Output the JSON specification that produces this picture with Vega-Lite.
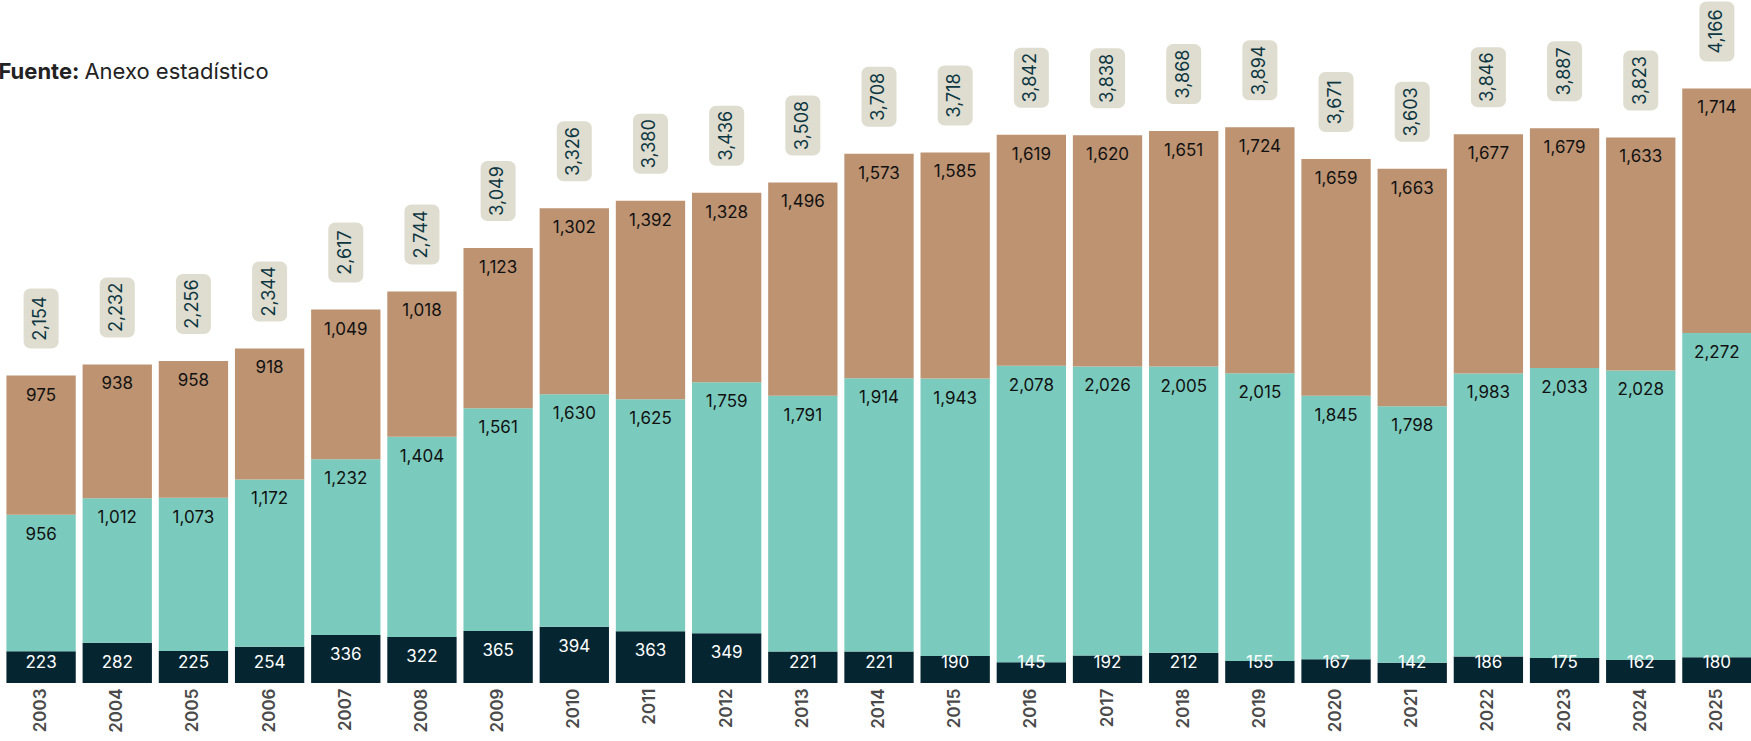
{
  "$schema": "https://vega.github.io/schema/vega-lite/v6.json",
  "width": 1752,
  "height": 683,
  "autosize": {"type": "none"},
  "padding": {"left": 3, "top": 0, "right": 0, "bottom": 58},
  "background": "white",
  "config": {"view": {"stroke": null}, "font": "Inter"},
  "data": {"values": [
    {"year": "2003", "cat": "c1", "value": 223}, {"year": "2003", "cat": "c2", "value": 956}, {"year": "2003", "cat": "c3", "value": 975},
    {"year": "2004", "cat": "c1", "value": 282}, {"year": "2004", "cat": "c2", "value": 1012}, {"year": "2004", "cat": "c3", "value": 938},
    {"year": "2005", "cat": "c1", "value": 225}, {"year": "2005", "cat": "c2", "value": 1073}, {"year": "2005", "cat": "c3", "value": 958},
    {"year": "2006", "cat": "c1", "value": 254}, {"year": "2006", "cat": "c2", "value": 1172}, {"year": "2006", "cat": "c3", "value": 918},
    {"year": "2007", "cat": "c1", "value": 336}, {"year": "2007", "cat": "c2", "value": 1232}, {"year": "2007", "cat": "c3", "value": 1049},
    {"year": "2008", "cat": "c1", "value": 322}, {"year": "2008", "cat": "c2", "value": 1404}, {"year": "2008", "cat": "c3", "value": 1018},
    {"year": "2009", "cat": "c1", "value": 365}, {"year": "2009", "cat": "c2", "value": 1561}, {"year": "2009", "cat": "c3", "value": 1123},
    {"year": "2010", "cat": "c1", "value": 394}, {"year": "2010", "cat": "c2", "value": 1630}, {"year": "2010", "cat": "c3", "value": 1302},
    {"year": "2011", "cat": "c1", "value": 363}, {"year": "2011", "cat": "c2", "value": 1625}, {"year": "2011", "cat": "c3", "value": 1392},
    {"year": "2012", "cat": "c1", "value": 349}, {"year": "2012", "cat": "c2", "value": 1759}, {"year": "2012", "cat": "c3", "value": 1328},
    {"year": "2013", "cat": "c1", "value": 221}, {"year": "2013", "cat": "c2", "value": 1791}, {"year": "2013", "cat": "c3", "value": 1496},
    {"year": "2014", "cat": "c1", "value": 221}, {"year": "2014", "cat": "c2", "value": 1914}, {"year": "2014", "cat": "c3", "value": 1573},
    {"year": "2015", "cat": "c1", "value": 190}, {"year": "2015", "cat": "c2", "value": 1943}, {"year": "2015", "cat": "c3", "value": 1585},
    {"year": "2016", "cat": "c1", "value": 145}, {"year": "2016", "cat": "c2", "value": 2078}, {"year": "2016", "cat": "c3", "value": 1619},
    {"year": "2017", "cat": "c1", "value": 192}, {"year": "2017", "cat": "c2", "value": 2026}, {"year": "2017", "cat": "c3", "value": 1620},
    {"year": "2018", "cat": "c1", "value": 212}, {"year": "2018", "cat": "c2", "value": 2005}, {"year": "2018", "cat": "c3", "value": 1651},
    {"year": "2019", "cat": "c1", "value": 155}, {"year": "2019", "cat": "c2", "value": 2015}, {"year": "2019", "cat": "c3", "value": 1724},
    {"year": "2020", "cat": "c1", "value": 167}, {"year": "2020", "cat": "c2", "value": 1845}, {"year": "2020", "cat": "c3", "value": 1659},
    {"year": "2021", "cat": "c1", "value": 142}, {"year": "2021", "cat": "c2", "value": 1798}, {"year": "2021", "cat": "c3", "value": 1663},
    {"year": "2022", "cat": "c1", "value": 186}, {"year": "2022", "cat": "c2", "value": 1983}, {"year": "2022", "cat": "c3", "value": 1677},
    {"year": "2023", "cat": "c1", "value": 175}, {"year": "2023", "cat": "c2", "value": 2033}, {"year": "2023", "cat": "c3", "value": 1679},
    {"year": "2024", "cat": "c1", "value": 162}, {"year": "2024", "cat": "c2", "value": 2028}, {"year": "2024", "cat": "c3", "value": 1633},
    {"year": "2025", "cat": "c1", "value": 180}, {"year": "2025", "cat": "c2", "value": 2272}, {"year": "2025", "cat": "c3", "value": 1714}
  ]},
  "transform": [
    {"stack": "value", "groupby": ["year"], "sort": [{"field": "cat", "order": "ascending"}], "as": ["v0", "v1"]}
  ],
  "layer": [
    {
      "mark": {"type": "bar"},
      "encoding": {
        "x": {"field": "year", "type": "ordinal", "scale": {"paddingInner": 0.09, "paddingOuter": 0.045},
              "axis": {"title": null, "labelAngle": -90, "labelPadding": 5, "labelFontSize": 17, "labelFontWeight": 600, "labelColor": "#4a4a4a", "ticks": false, "domain": false, "labelFont": "Inter"}},
        "y": {"field": "v0", "type": "quantitative", "scale": {"domain": [0, 4786], "nice": false, "zero": true}, "axis": null},
        "y2": {"field": "v1"},
        "color": {"field": "cat", "type": "nominal", "scale": {"domain": ["c1", "c2", "c3"], "range": ["#052530", "#7acbbd", "#bd9372"]}, "legend": null}
      }
    },
    {
      "transform": [{"filter": "datum.cat != 'c1'"}],
      "mark": {"type": "text", "dy": 20, "fontSize": 17, "color": "#111111", "baseline": "middle", "align": "center"},
      "encoding": {
        "x": {"field": "year", "type": "ordinal"},
        "y": {"field": "v1", "type": "quantitative", "scale": {"domain": [0, 4786], "nice": false}},
        "text": {"field": "value", "type": "quantitative", "format": ","}
      }
    },
    {
      "transform": [{"filter": "datum.cat == 'c1'"}, {"calculate": "max(datum.value - 140, 140)", "as": "ym"}],
      "mark": {"type": "text", "fontSize": 17, "color": "#ffffff", "baseline": "middle", "align": "center"},
      "encoding": {
        "x": {"field": "year", "type": "ordinal"},
        "y": {"field": "ym", "type": "quantitative", "scale": {"domain": [0, 4786], "nice": false}},
        "text": {"field": "value", "type": "quantitative", "format": ","}
      }
    },
    {
      "transform": [{"filter": "datum.cat == 'c3'"}],
      "mark": {"type": "bar", "width": 35, "cornerRadius": 7, "color": "#dfddcf", "yOffset": -27, "y2Offset": -87},
      "encoding": {
        "x": {"field": "year", "type": "ordinal"},
        "y": {"field": "v1", "type": "quantitative", "scale": {"domain": [0, 4786], "nice": false}},
        "y2": {"field": "v1"}
      }
    },
    {
      "transform": [{"filter": "datum.cat == 'c3'"}],
      "mark": {"type": "text", "angle": 270, "fontSize": 18, "color": "#0c3642", "baseline": "middle", "align": "center", "yOffset": -57},
      "encoding": {
        "x": {"field": "year", "type": "ordinal"},
        "y": {"field": "v1", "type": "quantitative", "scale": {"domain": [0, 4786], "nice": false}},
        "text": {"field": "v1", "type": "quantitative", "format": ","}
      }
    },
    {
      "data": {"values": [{"label": "Fuente:"}]},
      "mark": {"type": "text", "fontSize": 22, "fontWeight": "bold", "color": "#222222", "align": "left", "baseline": "alphabetic", "dx": -8},
      "encoding": {
        "x": {"datum": "2003", "type": "ordinal", "bandPosition": 0},
        "y": {"datum": 4233, "type": "quantitative", "scale": {"domain": [0, 4786], "nice": false}},
        "text": {"field": "label", "type": "nominal"}
      }
    },
    {
      "data": {"values": [{"label": "Anexo estadístico"}]},
      "mark": {"type": "text", "fontSize": 22, "fontWeight": "normal", "color": "#222222", "align": "left", "baseline": "alphabetic", "dx": 78},
      "encoding": {
        "x": {"datum": "2003", "type": "ordinal", "bandPosition": 0},
        "y": {"datum": 4233, "type": "quantitative", "scale": {"domain": [0, 4786], "nice": false}},
        "text": {"field": "label", "type": "nominal"}
      }
    }
  ]
}
